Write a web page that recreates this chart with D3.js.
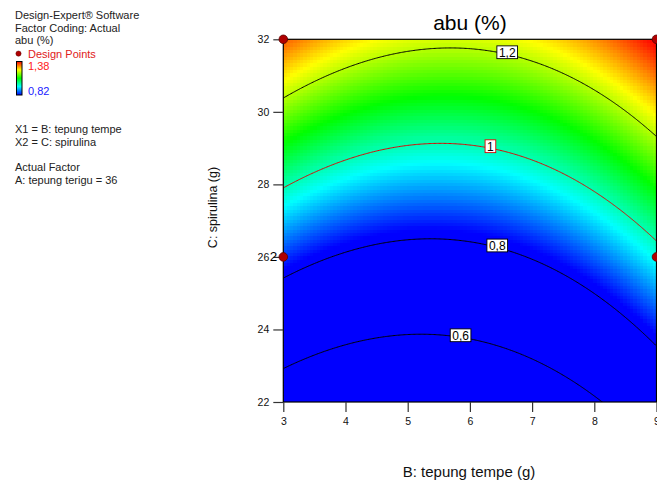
<!DOCTYPE html>
<html><head><meta charset="utf-8">
<script src="https://cdn.jsdelivr.net/npm/d3@7"></script>
<style>
html,body{margin:0;padding:0;background:#fff;}
svg{display:block;font-family:"Liberation Sans",Arial,Helvetica,sans-serif;}
</style></head><body>
<svg id="chart" width="657" height="484"></svg>
<script>
// Fitted response surface for abu (%):
// y = b0 + bB*x + bC*z + bBB*x^2 + bCC*z^2 + bBC*x*z, with x = B - 6, z = C - 27
const modelCenter = [6, 27];
const modelCoef = [0.8436, 0.0186, 0.0749, 0.0155, 0.000056, -0.00186];

const xDomain = [3, 9];
const yDomain = [22, 32];
const xTicks = [3, 4, 5, 6, 7, 8, 9];
const yTicks = [22, 24, 26, 28, 30, 32];

const contourLevels = [0.6, 0.8, 1.0, 1.2];
const contourColors = ["#000", "#000", "#e00000", "#000"];
const contourLabelB = [5.85, 6.44, 6.33, 6.6];

const designB = [3, 9, 3, 9];
const designC = [32, 32, 26, 26];
const designReps = [1, 1, 2, 1];

const colorRange = [0.82, 1.38];
const colorStops = ["#0000ff", "#00ffff", "#00ff00", "#ffff00", "#ff0000"];

const infoLines1 = ["Design-Expert® Software", "Factor Coding: Actual", "abu (%)"];
const infoLines2 = ["X1 = B: tepung tempe", "X2 = C: spirulina"];
const infoLines3 = ["Actual Factor", "A: tepung terigu = 36"];

const titleText = "abu (%)";
const xTitle = "B: tepung tempe (g)";
const yTitle = "C: spirulina (g)";

const fmt = d3.formatLocale({decimal: ",", thousands: ".", grouping: [3], currency: ["", ""]}).format("~g");

function model(B, C) {
  const x = B - modelCenter[0], z = C - modelCenter[1];
  const k = modelCoef;
  return k[0] + k[1] * x + k[2] * z + k[3] * x * x + k[4] * z * z + k[5] * x * z;
}

const svg = d3.select("#chart");
const plot = {left: 283.3, right: 656.5, top: 39.3, bottom: 402};

const xScale = d3.scaleLinear().domain(xDomain).range([plot.left, plot.right]);
const yScale = d3.scaleLinear().domain(yDomain).range([plot.bottom, plot.top]);

const colorScale = d3.scaleLinear()
  .domain(colorStops.map((_, i) => colorRange[0] + i / (colorStops.length - 1) * (colorRange[1] - colorRange[0])))
  .range(colorStops)
  .clamp(true);

svg.append("defs").append("clipPath").attr("id", "plotClip")
  .append("rect")
  .attr("x", plot.left).attr("y", plot.top)
  .attr("width", plot.right - plot.left).attr("height", plot.bottom - plot.top);

// coloured surface, drawn as a grid of cells
const nx = 112, ny = 109;
const cells = [];
const dB = (xDomain[1] - xDomain[0]) / nx, dC = (yDomain[1] - yDomain[0]) / ny;
for (let j = 0; j < ny; j++) {
  for (let i = 0; i < nx; i++) {
    const b0 = xDomain[0] + i * dB, c0 = yDomain[0] + j * dC;
    cells.push({b0, c0, b1: b0 + dB, c1: c0 + dC, v: model(b0 + dB / 2, c0 + dC / 2)});
  }
}
svg.append("g").attr("clip-path", "url(#plotClip)")
  .selectAll("rect").data(cells).join("rect")
  .attr("x", d => xScale(d.b0))
  .attr("y", d => yScale(d.c1))
  .attr("width", d => xScale(d.b1) - xScale(d.b0) + 0.6)
  .attr("height", d => yScale(d.c0) - yScale(d.c1) + 0.6)
  .attr("fill", d => colorScale(d.v))
  .attr("shape-rendering", "crispEdges");

// contour lines from a fine sample grid that extends past the plot edges
const step = 0.02;
const gB0 = xDomain[0] - 0.2, gC0 = yDomain[1] + 0.2;
const gnx = Math.round((xDomain[1] - xDomain[0] + 0.4) / step) + 1;
const gny = Math.round((yDomain[1] - yDomain[0] + 0.4) / step) + 1;
const grid = new Float64Array(gnx * gny);
for (let j = 0; j < gny; j++) {
  for (let i = 0; i < gnx; i++) {
    grid[j * gnx + i] = model(gB0 + i * step, gC0 - j * step);
  }
}
const contours = d3.contours().size([gnx, gny]).thresholds(contourLevels).smooth(true)(grid);
const gridToScreen = d3.geoTransform({
  point(u, v) {
    this.stream.point(xScale(gB0 + (u - 0.5) * step), yScale(gC0 - (v - 0.5) * step));
  }
});
const contourPath = d3.geoPath(gridToScreen);
svg.append("g").attr("clip-path", "url(#plotClip)")
  .selectAll("path").data(contours).join("path")
  .attr("d", contourPath)
  .attr("fill", "none")
  .attr("stroke", (d, i) => contourColors[i])
  .attr("stroke-width", 1);

// plot frame
svg.append("rect")
  .attr("x", plot.left).attr("y", plot.top)
  .attr("width", plot.right - plot.left).attr("height", plot.bottom - plot.top)
  .attr("fill", "none").attr("stroke", "#000").attr("stroke-width", 1.2);

// axes
const xAxis = svg.append("g").attr("transform", `translate(0,${plot.bottom})`)
  .call(d3.axisBottom(xScale).tickValues(xTicks).tickFormat(d3.format("d")).tickSizeOuter(0).tickSize(10).tickPadding(6));
const yAxis = svg.append("g").attr("transform", `translate(${plot.left},0)`)
  .call(d3.axisLeft(yScale).tickValues(yTicks).tickFormat(d3.format("d")).tickSizeOuter(0).tickSize(10).tickPadding(4));
[xAxis, yAxis].forEach(ax => {
  ax.select(".domain").remove();
  ax.selectAll("line").attr("stroke", "#333").attr("stroke-width", 1.2);
  ax.selectAll("text").attr("font-size", 10.5).attr("fill", "#111")
    .attr("font-family", '"Liberation Sans",Arial,sans-serif');
});

// contour value labels sitting on their lines
function solveC(B, level) {
  let lo = yDomain[0] - 5, hi = yDomain[1] + 5;
  for (let k = 0; k < 60; k++) {
    const mid = (lo + hi) / 2;
    if (model(B, mid) < level) lo = mid; else hi = mid;
  }
  return (lo + hi) / 2;
}
const labels = svg.append("g");
contourLevels.forEach((lv, i) => {
  const B = contourLabelB[i], C = solveC(B, lv);
  const cx = xScale(B), cy = yScale(C) - 2;
  const g = labels.append("g");
  const box = g.append("rect");
  const t = g.append("text").attr("x", cx).attr("y", cy + 4.3)
    .attr("text-anchor", "middle").attr("font-size", 12).attr("fill", "#000")
    .text(fmt(lv));
  const w = t.node().getComputedTextLength() + 4;
  box.attr("x", cx - w / 2).attr("y", cy - 6.4).attr("width", w).attr("height", 12.8)
    .attr("fill", "#fff").attr("stroke", contourColors[i]).attr("stroke-width", 0.9);
});

// design points
const pts = designB.map((b, i) => ({b, c: designC[i], n: designReps[i]}));
svg.append("g").selectAll("circle").data(pts).join("circle")
  .attr("cx", d => xScale(d.b)).attr("cy", d => yScale(d.c)).attr("r", 4.3)
  .attr("fill", "#b00000").attr("stroke", "#5a0000").attr("stroke-width", 0.8);
svg.append("g").selectAll("text").data(pts.filter(d => d.n > 1)).join("text")
  .attr("x", d => xScale(d.b) - 6).attr("y", d => yScale(d.c) + 4.3)
  .attr("text-anchor", "end").attr("font-size", 13.5).attr("fill", "#000")
  .text(d => d.n);

// titles
svg.append("text").attr("x", (plot.left + plot.right) / 2).attr("y", 30)
  .attr("text-anchor", "middle").attr("font-size", 21).attr("fill", "#000").text(titleText);
svg.append("text").attr("x", 469).attr("y", 476.5)
  .attr("text-anchor", "middle").attr("font-size", 15).attr("fill", "#111").text(xTitle);
svg.append("text").attr("transform", "translate(217,207.5) rotate(-90)")
  .attr("text-anchor", "middle").attr("font-size", 12.5).attr("fill", "#111").text(yTitle);

// information panel
const info = svg.append("g").attr("font-size", 11).attr("fill", "#222");
info.selectAll("text.l1").data(infoLines1).join("text").attr("class", "l1")
  .attr("x", 15).attr("y", (d, i) => 19 + i * 12.7).text(d => d);
info.append("circle").attr("cx", 18.5).attr("cy", 53.6).attr("r", 2.6)
  .attr("fill", "#b00000").attr("stroke", "#5a0000").attr("stroke-width", 0.5);
info.append("text").attr("x", 28).attr("y", 57.5).attr("fill", "#e02020").text("Design Points");

const grad = svg.select("defs").append("linearGradient").attr("id", "legendGrad")
  .attr("x1", 0).attr("y1", 1).attr("x2", 0).attr("y2", 0);
grad.selectAll("stop").data(colorStops).join("stop")
  .attr("offset", (d, i) => i / (colorStops.length - 1))
  .attr("stop-color", d => d);
info.append("rect").attr("x", 16.5).attr("y", 61.5).attr("width", 5.5).attr("height", 33.5)
  .attr("fill", "url(#legendGrad)").attr("stroke", "#000").attr("stroke-width", 1);
info.append("text").attr("x", 28).attr("y", 70).attr("fill", "#ff2020").text(fmt(colorRange[1]));
info.append("text").attr("x", 28).attr("y", 95.3).attr("fill", "#2020ff").text(fmt(colorRange[0]));

info.selectAll("text.l2").data(infoLines2).join("text").attr("class", "l2")
  .attr("x", 15).attr("y", (d, i) => 133.3 + i * 13).text(d => d);
info.selectAll("text.l3").data(infoLines3).join("text").attr("class", "l3")
  .attr("x", 15).attr("y", (d, i) => 171 + i * 13).text(d => d);
</script>
</body></html>
